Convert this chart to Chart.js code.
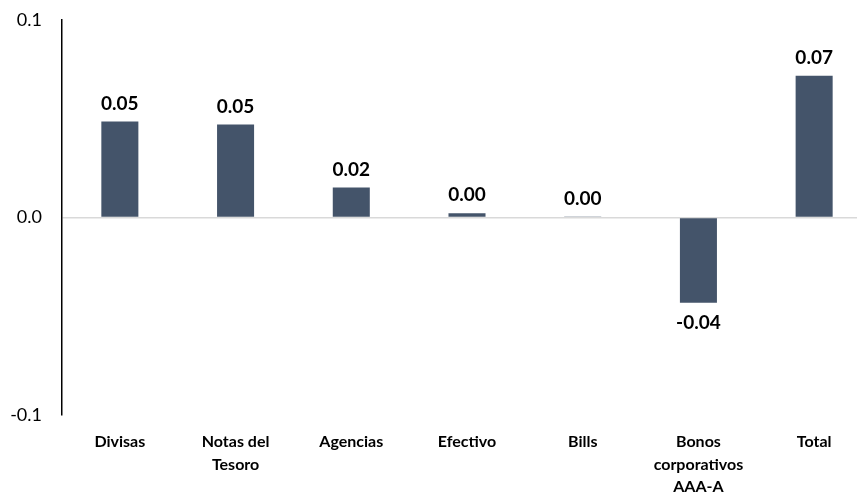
<!DOCTYPE html>
<html>
<head>
<meta charset="utf-8">
<script src="https://cdn.jsdelivr.net/npm/chart.js@4/dist/chart.umd.min.js"></script>
<style>
  html, body { margin: 0; padding: 0; background: #fff; overflow: hidden; }
  #wrap { width: 880px; height: 493px; }
</style>
</head>
<body>
<div id="wrap"><canvas id="bar-chart" width="880" height="493"></canvas></div>
<script>
// categories and values
const categories = ['Divisas', ['Notas del', 'Tesoro'], 'Agencias', 'Efectivo', 'Bills', ['Bonos', 'corporativos', 'AAA-A'], 'Total'];
const values = [0.0486, 0.0471, 0.0152, 0.0021, 0.0003, -0.0432, 0.0718];
const yTicks = [-0.1, 0.0, 0.1];

const barColor = '#44546A';
const fontFamily = 'Lato, "Open Sans", sans-serif';

// write the value over (or under) each bar
const valueLabels = {
  id: 'valueLabels',
  afterDatasetsDraw(chart) {
    const ctx = chart.ctx;
    const meta = chart.getDatasetMeta(0);
    ctx.save();
    ctx.font = 'bold 19px ' + fontFamily;
    ctx.fillStyle = '#000';
    ctx.textAlign = 'center';
    ctx.textBaseline = 'middle';
    meta.data.forEach((bar, i) => {
      const v = values[i];
      const y = v >= 0 ? bar.y - 18 : bar.y + 20;
      ctx.fillText(v.toFixed(2), bar.x, y);
    });
    ctx.restore();
  }
};

new Chart(document.getElementById('bar-chart'), {
  type: 'bar',
  data: {
    labels: categories,
    datasets: [{
      data: values,
      backgroundColor: barColor,
      borderWidth: 0,
      barPercentage: 0.32,
      categoryPercentage: 1
    }]
  },
  options: {
    responsive: false,
    animation: false,
    layout: { padding: { top: 20, right: 8, bottom: 0, left: 0 } },
    plugins: { legend: { display: false }, tooltip: { enabled: false } },
    scales: {
      x: {
        grid: { display: false },
        border: { display: false },
        ticks: {
          color: '#000',
          font: { family: fontFamily, size: 16, weight: 'bold', lineHeight: 1.4 },
          padding: 8,
          maxRotation: 0,
          autoSkip: false
        },
        afterFit(scale) { scale.height = 78; }
      },
      y: {
        min: -0.1,
        max: 0.1,
        afterBuildTicks(scale) { scale.ticks = yTicks.map(v => ({ value: v })); },
        grid: {
          drawTicks: false,
          color: ctx => (ctx.tick && ctx.tick.value === 0 ? '#D9D9D9' : 'rgba(0,0,0,0)'),
          lineWidth: 1.5
        },
        border: { display: true, color: '#000', width: 1.5 },
        ticks: {
          color: '#000',
          font: { family: fontFamily, size: 18 },
          padding: 20,
          callback: v => v.toFixed(1)
        },
        afterFit(scale) {
          scale.width = 62;
          scale.paddingTop = 0;
          scale.paddingBottom = 0;
        }
      }
    }
  },
  plugins: [valueLabels]
});
</script>
</body>
</html>
